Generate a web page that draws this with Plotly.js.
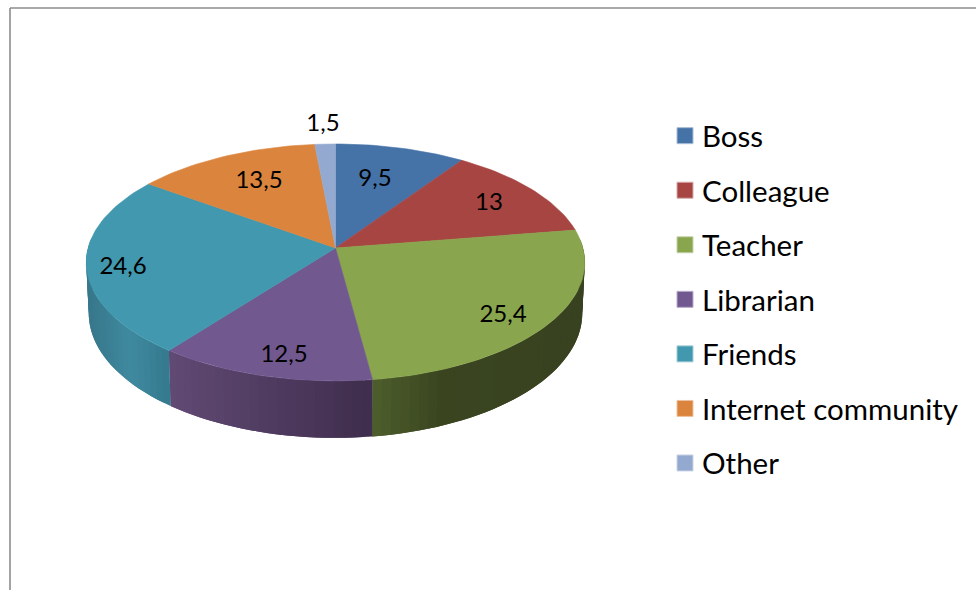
<!DOCTYPE html>
<html>
<head>
<meta charset="utf-8">
<script src="https://cdn.plot.ly/plotly-3.0.1.min.js"></script>
<style>html,body{margin:0;padding:0;background:#fff;overflow:hidden}#chart{width:976px;height:590px}</style>
</head>
<body>
<div id="chart"></div>
<script>
// Data
const categories = ['Boss', 'Colleague', 'Teacher', 'Librarian', 'Friends', 'Internet community', 'Other'];
const shares = [9.5, 13, 25.4, 12.5, 24.6, 13.5, 1.5];

// Styles
const topColors = ['#4572a7', '#a74543', '#89a54e', '#71588f', '#4198af', '#db843d', '#93a9cf'];
const edgeColors = ['#a9bcd6', '#d6aaa9', '#c6d3aa', '#b8abc9', '#a4ccd8', '#edc2a0', '#c9d4e7'];
// wall shading: colours from the left to the right of each visible wall
const wallShades = [null, null, ['#4d5e2c', '#3a4520', '#394320', '#384220'], ['#614a74', '#4f3b60', '#3f2d4d'],
                    ['#38788c', '#3f8aa0', '#34788c'], null, null];
const labelAnchors = [[375, 180], [489, 204], [503, 316], [284, 356], [123, 268], [259, 182], [323, 125]];

// Projection of the tilted disc onto the page
const cx = 335.5, cy = 248, A = 247.4, B = 116.7, K = 0.122, DEPTH = 50, BASE_SCALE = 0.99;
function project(deg, r = 1) {
  const t = deg * Math.PI / 180, X = r * Math.sin(t), Z = r * Math.cos(t), w = 1 + K * Z;
  return { x: cx + A * X / w, y: cy - B * Z / w, w };
}
function lower(p) { return { x: cx + (p.x - cx) * BASE_SCALE, y: p.y + DEPTH / p.w }; }
function hex(c) { return [1, 3, 5].map(i => parseInt(c.substr(i, 2), 16)); }
function shade(stops, f) {
  const s = Math.min(stops.length - 1.0001, Math.max(0, f) * (stops.length - 1)), i = Math.floor(s), u = s - i;
  const a = hex(stops[i]), b = hex(stops[i + 1]);
  return 'rgb(' + a.map((v, j) => Math.round(v + (b[j] - v) * u)).join(',') + ')';
}

const total = shares.reduce((a, b) => a + b, 0);
let run = 0;
const spans = shares.map(v => { const s = run; run += v; return [s / total * 360, run / total * 360]; });

const traces = [];
// side walls: each strip runs on under the next one so no seam shows
spans.forEach(([s, e], i) => {
  if (!wallShades[i]) return;
  const a0 = Math.max(s, 85), a1 = Math.min(e, 275);
  const pa = project(a0).x, pb = project(a1).x, lo = Math.min(pa, pb), hi = Math.max(pa, pb);
  const n = Math.ceil((a1 - a0) / 2);
  for (let k = 0; k < n; k++) {
    const d0 = a0 + (a1 - a0) * k / n, d1 = a0 + (a1 - a0) * Math.min(n, k + 2) / n;
    const dm = a0 + (a1 - a0) * (k + 1) / n;
    const p0 = project(d0), pm = project(dm), p1 = project(d1), q0 = lower(p0), qm = lower(pm), q1 = lower(p1);
    const col = shade(wallShades[i], ((p0.x + pm.x) / 2 - lo) / (hi - lo));
    traces.push({ type: 'scatter', mode: 'none', fill: 'toself', fillcolor: col, showlegend: false, hoverinfo: 'skip',
      x: [p0.x, pm.x, p1.x, q1.x, qm.x, q0.x, p0.x], y: [p0.y, pm.y, p1.y, q1.y, qm.y, q0.y, p0.y] });
  }
});
// top faces
spans.forEach(([s, e], i) => {
  const xs = [cx], ys = [cy], n = Math.max(3, Math.ceil((e - s) / 1.5));
  for (let k = 0; k <= n; k++) { const p = project(s + (e - s) * k / n); xs.push(p.x); ys.push(p.y); }
  xs.push(cx); ys.push(cy);
  traces.push({ type: 'scatter', mode: 'lines', fill: 'toself', fillcolor: topColors[i], showlegend: false,
    name: categories[i], text: categories[i] + ': ' + shares[i], hoverinfo: 'text',
    line: { color: topColors[i], width: 0.6 }, x: xs, y: ys });
});
// value labels
traces.push({ type: 'scatter', mode: 'text', showlegend: false, hoverinfo: 'skip',
  x: labelAnchors.map(a => a[0]), y: labelAnchors.map(a => a[1]),
  text: shares.map(v => String(v).replace('.', ',')), textposition: 'middle center',
  textfont: { family: 'Lato, Carlito, sans-serif', size: 24, color: '#000' } });
// legend entries
categories.forEach((c, i) => traces.push({ type: 'scatter', mode: 'markers', name: c, legendgroup: c,
  x: [null], y: [null], hoverinfo: 'skip',
  marker: { symbol: 'square', size: 16, color: topColors[i], line: { color: edgeColors[i], width: 1 } } }));

const layout = {
  width: 976, height: 590, margin: { l: 0, r: 0, t: 0, b: 0 },
  paper_bgcolor: '#fff', plot_bgcolor: '#fff',
  xaxis: { visible: false, range: [0, 976], fixedrange: true },
  yaxis: { visible: false, range: [590, 0], fixedrange: true },
  showlegend: true,
  legend: { x: 662 / 976, y: 1 - 110 / 590, xanchor: 'left', yanchor: 'top', tracegroupgap: 13.2, itemwidth: 30,
    font: { family: 'Lato, Carlito, sans-serif', size: 29.5, color: '#000' }, bgcolor: 'rgba(0,0,0,0)', itemclick: false, itemdoubleclick: false },
  shapes: [
    { type: 'line', xref: 'paper', yref: 'paper', x0: 10 / 976, x1: 1, y0: 1 - 8 / 590, y1: 1 - 8 / 590, line: { color: '#8c8c8c', width: 1.6 } },
    { type: 'line', xref: 'paper', yref: 'paper', x0: 10 / 976, x1: 10 / 976, y0: 1 - 8 / 590, y1: 0, line: { color: '#8c8c8c', width: 1.6 } }
  ]
};
Plotly.newPlot('chart', traces, layout, { displayModeBar: false }).then(gd => {
  // the reference keeps its swatches a little closer to the legend text
  gd.querySelectorAll('.legend .legendsymbols').forEach(n => n.setAttribute('transform', 'translate(3,0)'));
});
</script>
</body>
</html>
